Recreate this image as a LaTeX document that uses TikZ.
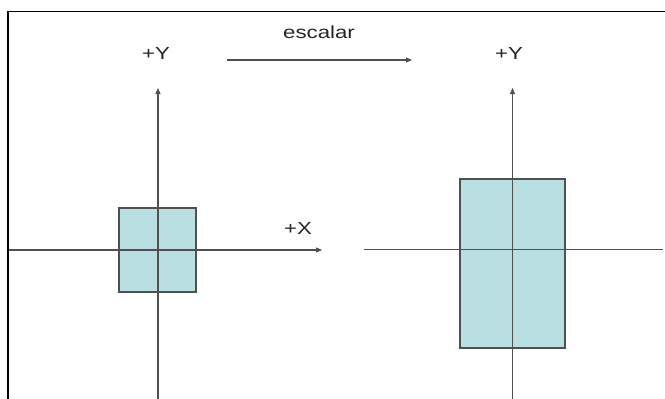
\documentclass[tikz,border=0pt]{standalone}
\usepackage{fontspec}
\setmainfont{Liberation Sans}
\usetikzlibrary{arrows.meta}
\definecolor{axisgray}{HTML}{505050}
\definecolor{boxfill}{HTML}{B9DFE3}
\tikzset{
  axis/.style={draw=axisgray, line width=1.1pt},
  axisarrow/.style={axis, -{Triangle[length=6pt,width=5pt]}},
  boxstyle/.style={fill=boxfill, draw=axisgray, line width=1.1pt},
  lbl/.style={font=\fontsize{17.5}{20}\selectfont, text=black!85, inner sep=0pt, xscale=1.27}
}
\begin{document}
\begin{tikzpicture}[x=1pt,y=-1pt]
\useasboundingbox (0,0) rectangle (665,399);
% frame
\draw[black, line width=1.6pt] (8,399.5) -- (8,11.5) -- (665.5,11.5);
% left picture
\fill[boxstyle] (119,208) rectangle (196,292);
\coordinate (lxs) at (9,250);
\coordinate (lxe) at (322,250);
\coordinate (lys) at (158,399.5);
\coordinate (lye) at (158,88);
\draw[axisarrow] (lxs) -- (lxe);
\draw[axisarrow] (lys) -- (lye);
\draw[axisgray, line width=1.1pt] (119,208) rectangle (196,292);
\node[lbl] (ly) at (156,53) {+Y};
\node[lbl] (lx) at (298,228) {+X};
% scaling arrow
\node[lbl] (esc) at (319,32) {escalar};
\coordinate (as) at (227,60);
\coordinate (ae) at (412,60);
\draw[axisarrow] (as) -- (ae);
% right picture
\fill[boxstyle] (460,179) rectangle (565,348);
\coordinate (rxs) at (364,249.5);
\coordinate (rxe) at (663,249.5);
\coordinate (rys) at (512.5,399.5);
\coordinate (rye) at (512.5,88);
\draw[axis] (rxs) -- (rxe);
\draw[axisarrow] (rys) -- (rye);
\draw[axisgray, line width=1.1pt] (460,179) rectangle (565,348);
\node[lbl] (ry) at (509,53) {+Y};
\end{tikzpicture}
\end{document}
